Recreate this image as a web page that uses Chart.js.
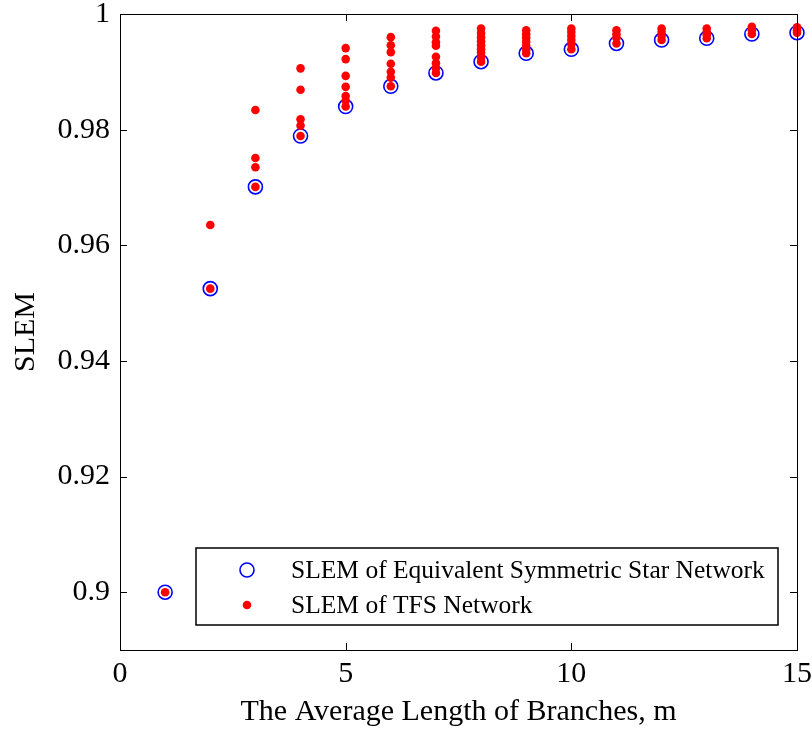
<!DOCTYPE html>
<html>
<head>
<meta charset="utf-8">
<script src="https://cdn.jsdelivr.net/npm/chart.js@4.4.1/dist/chart.umd.min.js"></script>
<style>
  html, body { margin: 0; padding: 0; background: #fff; }
  #wrap { position: relative; width: 812px; height: 731px; }
</style>
</head>
<body>
<div id="wrap"><canvas id="myChart"></canvas></div>
<script>
// average length of branches, m
var branchLengths = [1, 2, 3, 4, 5, 6, 7, 8, 9, 10, 11, 12, 13, 14, 15];

// SLEM of the equivalent symmetric star network (one value per m)
var starSlem = [0.9, 0.9525, 0.9701, 0.9789, 0.9840, 0.9875, 0.9898, 0.99175,
  0.9932, 0.9939, 0.9949, 0.9955, 0.9958, 0.99654, 0.99676];

// SLEM of the TFS networks, several trees for each m
var tfsSlem = [
  [0.9],
  [0.9635, 0.9525],
  [0.9834, 0.9751, 0.9735, 0.9701],
  [0.9906, 0.9869, 0.9818, 0.9807, 0.9789],
  [0.9941, 0.9922, 0.9893, 0.9874, 0.9858, 0.9850, 0.9840],
  [0.9960, 0.9946, 0.9934, 0.9914, 0.9900, 0.9890, 0.9875],
  [0.9971, 0.9961, 0.9951, 0.9945, 0.9926, 0.9915, 0.9906, 0.9898],
  [0.9975, 0.9967, 0.9960, 0.9953, 0.9946, 0.9939, 0.9933, 0.9925, 0.99175],
  [0.9972, 0.9965, 0.9959, 0.9952, 0.9945, 0.9938, 0.9932],
  [0.9975, 0.9969, 0.9962, 0.9955, 0.9948, 0.9939],
  [0.9972, 0.9965, 0.9959, 0.9949],
  [0.9975, 0.9969, 0.9962, 0.9955],
  [0.9975, 0.9969, 0.9964, 0.9958],
  [0.9978, 0.9972, 0.99654],
  [0.9977, 0.9972, 0.99676]
];

var xTicks = [0, 5, 10, 15];
var yTicks = [0.9, 0.92, 0.94, 0.96, 0.98, 1];

var serif = '"Liberation Serif", "Times New Roman", serif';

var starPoints = branchLengths.map(function (m, i) {
  return { x: m, y: starSlem[i] };
});
var tfsPoints = [];
branchLengths.forEach(function (m, i) {
  tfsSlem[i].forEach(function (v) {
    tfsPoints.push({ x: m, y: v });
  });
});

// box with inward tick marks, like a matlab axes
var framePlugin = {
  id: 'frame',
  afterDatasetsDraw: function (chart) {
    var ctx = chart.ctx;
    var a = chart.chartArea;
    var xs = chart.scales.x, ys = chart.scales.y;
    var len = 7;
    ctx.save();
    ctx.strokeStyle = '#000';
    ctx.lineWidth = 1;
    ctx.beginPath();
    xTicks.forEach(function (t) {
      var px = Math.round(xs.getPixelForValue(t)) + 0.5;
      ctx.moveTo(px, a.bottom); ctx.lineTo(px, a.bottom - len);
      ctx.moveTo(px, a.top); ctx.lineTo(px, a.top + len);
    });
    yTicks.forEach(function (t) {
      var py = Math.round(ys.getPixelForValue(t)) + 0.5;
      ctx.moveTo(a.left, py); ctx.lineTo(a.left + len, py);
      ctx.moveTo(a.right, py); ctx.lineTo(a.right - len, py);
    });
    ctx.stroke();
    ctx.strokeRect(Math.round(a.left) + 0.5, Math.round(a.top) + 0.5,
      Math.round(a.right - a.left), Math.round(a.bottom - a.top));
    ctx.restore();
  }
};

// legend box inside the axes, bottom right
var legendPlugin = {
  id: 'boxLegend',
  afterDraw: function (chart) {
    var ctx = chart.ctx;
    var a = chart.chartArea;
    var left = a.left + 76, right = a.right - 19;
    var top = a.bottom - 102, bottom = a.bottom - 25;
    var rows = [chart.data.datasets[1], chart.data.datasets[0]];
    ctx.save();
    ctx.fillStyle = '#fff';
    ctx.fillRect(left, top, right - left, bottom - top);
    ctx.strokeStyle = '#000';
    ctx.lineWidth = 1.5;
    ctx.strokeRect(left, top, right - left, bottom - top);
    ctx.font = '25.5px ' + serif;
    ctx.textBaseline = 'middle';
    rows.forEach(function (ds, i) {
      var cy = top + 22 + i * 35;
      var cx = left + 51;
      ctx.beginPath();
      ctx.arc(cx, cy, ds.pointRadius, 0, Math.PI * 2);
      if (ds.pointBorderWidth > 0) {
        ctx.strokeStyle = ds.pointBorderColor;
        ctx.lineWidth = ds.pointBorderWidth;
        ctx.stroke();
      } else {
        ctx.fillStyle = ds.pointBackgroundColor;
        ctx.fill();
      }
      ctx.fillStyle = '#000';
      ctx.fillText(ds.label, left + 95, cy + 1);
    });
    ctx.restore();
  }
};

var ctx = document.getElementById('myChart').getContext('2d');
var myChart = new Chart(ctx, {
  type: 'scatter',
  data: {
    datasets: [
      {
        label: 'SLEM of TFS Network',
        data: tfsPoints,
        pointRadius: 4.3,
        pointBackgroundColor: '#ff0000',
        pointBorderColor: '#ff0000',
        pointBorderWidth: 0,
        clip: false
      },
      {
        label: 'SLEM of Equivalent Symmetric Star Network',
        data: starPoints,
        pointRadius: 7,
        pointBackgroundColor: 'rgba(0,0,0,0)',
        pointBorderColor: '#0000ff',
        pointBorderWidth: 1.6,
        clip: false
      }
    ]
  },
  options: {
    responsive: true,
    maintainAspectRatio: false,
    animation: false,
    devicePixelRatio: 1,
    layout: { padding: { top: 14, right: 15, left: 0, bottom: 0 } },
    plugins: {
      legend: { display: false },
      tooltip: { enabled: false }
    },
    scales: {
      x: {
        type: 'linear',
        min: 0,
        max: 15,
        afterBuildTicks: function (scale) {
          scale.ticks = xTicks.map(function (v) { return { value: v }; });
        },
        afterFit: function (scale) {
          scale.height = 81;
          scale.paddingLeft = 0;
          scale.paddingRight = 0;
        },
        grid: { display: false, drawTicks: false },
        border: { display: false },
        ticks: { padding: 6, color: '#000', font: { family: serif, size: 30 } },
        title: {
          display: true,
          text: 'The Average Length of Branches, m',
          color: '#000',
          font: { family: serif, size: 30 },
          padding: { top: 0, bottom: 1 }
        }
      },
      y: {
        type: 'linear',
        min: 0.89,
        max: 1,
        afterBuildTicks: function (scale) {
          scale.ticks = yTicks.map(function (v) { return { value: v }; });
        },
        afterFit: function (scale) {
          scale.width = 120;
          scale.paddingTop = 0;
          scale.paddingBottom = 0;
        },
        grid: { display: false, drawTicks: false },
        border: { display: false },
        ticks: {
          padding: 10,
          color: '#000',
          font: { family: serif, size: 30 },
          callback: function (v) { return String(parseFloat(v.toFixed(2))); }
        },
        title: {
          display: true,
          text: 'SLEM',
          color: '#000',
          font: { family: serif, size: 30 },
          padding: { top: 8, bottom: 0 }
        }
      }
    }
  },
  plugins: [framePlugin, legendPlugin]
});
</script>
</body>
</html>
